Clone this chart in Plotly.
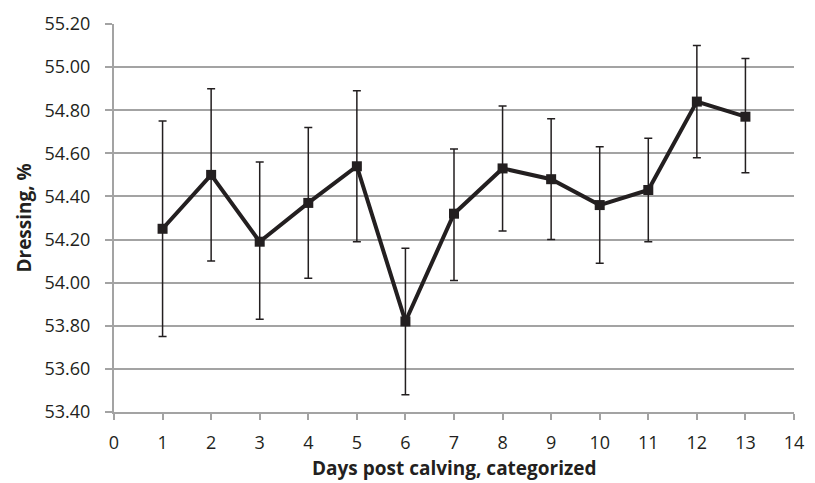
import plotly.graph_objects as go

days = [1, 2, 3, 4, 5, 6, 7, 8, 9, 10, 11, 12, 13]
dressing = [54.25, 54.50, 54.19, 54.37, 54.54, 53.82, 54.32, 54.53, 54.48, 54.36, 54.43, 54.84, 54.77]
upper = [54.75, 54.90, 54.56, 54.72, 54.89, 54.16, 54.62, 54.82, 54.76, 54.63, 54.67, 55.10, 55.04]
lower = [53.75, 54.10, 53.83, 54.02, 54.19, 53.48, 54.01, 54.24, 54.20, 54.09, 54.19, 54.58, 54.51]
x_ticks = list(range(0, 15))
y_ticks = [53.40, 53.60, 53.80, 54.00, 54.20, 54.40, 54.60, 54.80, 55.00, 55.20]

err_plus = [u - m for u, m in zip(upper, dressing)]
err_minus = [m - l for m, l in zip(dressing, lower)]

FONT = "Open Sans"
INK = "#231f20"
GRID = "#a3a3a3"

fig = go.Figure()
fig.add_trace(go.Scatter(
    x=days, y=dressing, mode="lines+markers",
    line=dict(color=INK, width=4),
    marker=dict(symbol="square", size=10, color=INK),
    error_y=dict(type="data", symmetric=False, array=err_plus, arrayminus=err_minus,
                 color=INK, thickness=1.5, width=4),
    showlegend=False,
))

fig.update_layout(
    width=815, height=483,
    margin=dict(l=114, r=11, t=17, b=71),
    paper_bgcolor="white", plot_bgcolor="white",
    font=dict(family=FONT, color=INK, size=18),
)
fig.update_xaxes(
    range=[0, 14], tickvals=x_ticks, ticktext=[str(v) for v in x_ticks],
    showgrid=False, zeroline=False,
    showline=True, linecolor=GRID, linewidth=2,
    ticks="outside", ticklen=6, tickcolor=GRID, tickwidth=1.5,
    ticklabelstandoff=7,
    tickfont=dict(family=FONT, size=18, color=INK),
)
fig.update_yaxes(
    range=[53.40, 55.20], tickvals=y_ticks, ticktext=[f"{v:.2f}" for v in y_ticks],
    showgrid=True, gridcolor=GRID, gridwidth=1.5, zeroline=False,
    showline=True, linecolor=GRID, linewidth=2,
    ticks="outside", ticklen=7, tickcolor=GRID, tickwidth=1.5,
    ticklabelstandoff=11,
    tickfont=dict(family=FONT, size=18, color=INK),
)

fig.add_annotation(
    text="<b>Days post calving, categorized</b>", xref="paper", yref="paper",
    x=0.5, y=-0.144, xanchor="center", yanchor="middle", showarrow=False,
    font=dict(family=FONT, size=19, color=INK),
)
fig.add_annotation(
    text="<b>Dressing, %</b>", xref="paper", yref="paper",
    x=-0.133, y=0.5, xanchor="center", yanchor="middle", showarrow=False,
    textangle=-90, font=dict(family=FONT, size=19, color=INK),
)

# remove the browser's default 8px body margin so the figure sits at the page origin
fig.write_html("out.html", config={"displayModeBar": False},
               post_script="document.body.style.margin='0';")
